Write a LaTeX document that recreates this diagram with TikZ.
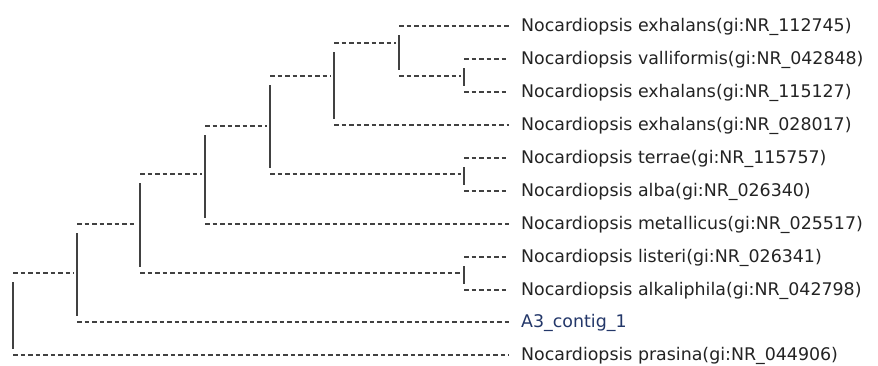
\documentclass[tikz,border=0pt]{standalone}
\usepackage{fontspec}
\setmainfont{DejaVu Sans}
\definecolor{linegray}{RGB}{65,65,65}
\definecolor{textgray}{RGB}{35,35,35}
\definecolor{contigblue}{RGB}{35,55,105}
\begin{document}
\begin{tikzpicture}[x=1pt,y=-1pt,
  br/.style={draw=linegray, line width=1.6pt, dash pattern=on 4.5pt off 3pt},
  vbar/.style={draw=linegray, line width=1.8pt},
  leaf/.style={anchor=west, inner xsep=12pt, inner ysep=0pt, text height=11pt, text depth=0pt,
    font=\fontsize{17.4}{20}\selectfont, text=textgray}]
\useasboundingbox (0,0) rectangle (878,365);
% leaves
\node[leaf] (l1)  at (509,26)  {Nocardiopsis exhalans(gi:NR\_112745)};
\node[leaf] (l2)  at (509,59)  {Nocardiopsis valliformis(gi:NR\_042848)};
\node[leaf] (l3)  at (509,92)  {Nocardiopsis exhalans(gi:NR\_115127)};
\node[leaf] (l4)  at (509,125) {Nocardiopsis exhalans(gi:NR\_028017)};
\node[leaf] (l5)  at (509,158) {Nocardiopsis terrae(gi:NR\_115757)};
\node[leaf] (l6)  at (509,191) {Nocardiopsis alba(gi:NR\_026340)};
\node[leaf] (l7)  at (509,224) {Nocardiopsis metallicus(gi:NR\_025517)};
\node[leaf] (l8)  at (509,257) {Nocardiopsis listeri(gi:NR\_026341)};
\node[leaf] (l9)  at (509,290) {Nocardiopsis alkaliphila(gi:NR\_042798)};
\node[leaf, text=contigblue] (l10) at (509,322) {A3\_contig\_1};
\node[leaf] (l11) at (509,355) {Nocardiopsis prasina(gi:NR\_044906)};
% internal nodes (x = vertical bar, y = incoming branch)
\coordinate (na)   at (464,76);
\coordinate (nc)   at (464,174);
\coordinate (nb)   at (464,273);
\coordinate (n399) at (399,43);
\coordinate (n334) at (334,76);
\coordinate (n270) at (270,126);
\coordinate (n205) at (205,174);
\coordinate (n140) at (140,224);
\coordinate (n77)  at (77,273);
\coordinate (root) at (13,314);
% leaf branches
\draw[br] (n399 |- l1.west) -- (l1.west);
\draw[br] (na |- l2.west) -- (l2.west);
\draw[br] (na |- l3.west) -- (l3.west);
\draw[br] (n334 |- l4.west) -- (l4.west);
\draw[br] (nc |- l5.west) -- (l5.west);
\draw[br] (nc |- l6.west) -- (l6.west);
\draw[br] (n205 |- l7.west) -- (l7.west);
\draw[br] (nb |- l8.west) -- (l8.west);
\draw[br] (nb |- l9.west) -- (l9.west);
\draw[br] (n77 |- l10.west) -- (l10.west);
\draw[br] (root |- l11.west) -- (l11.west);
% internal branches
\draw[br] (n399 |- na) -- ([xshift=-3pt]na);
\draw[br] (n334 |- n399) -- ([xshift=-3pt]n399);
\draw[br] (n270 |- n334) -- ([xshift=-3pt]n334);
\draw[br] (n270 |- nc) -- ([xshift=-3pt]nc);
\draw[br] (n205 |- n270) -- ([xshift=-3pt]n270);
\draw[br] (n140 |- n205) -- ([xshift=-3pt]n205);
\draw[br] (n140 |- nb) -- ([xshift=-3pt]nb);
\draw[br] (n77 |- n140) -- ([xshift=-3pt]n140);
\draw[br] (root |- n77) -- ([xshift=-3pt]n77);
% vertical bars
\draw[vbar] ([yshift=-9pt]na |- l2.west) -- ([yshift=6pt]na |- l3.west);
\draw[vbar] ([yshift=-9pt]nc |- l5.west) -- ([yshift=6pt]nc |- l6.west);
\draw[vbar] ([yshift=-9pt]nb |- l8.west) -- ([yshift=6pt]nb |- l9.west);
\draw[vbar] ([yshift=-9pt]n399 |- l1.west) -- ([yshift=6pt]n399 |- na);
\draw[vbar] ([yshift=-9pt]n334 |- n399) -- ([yshift=6pt]n334 |- l4.west);
\draw[vbar] ([yshift=-9pt]n270 |- n334) -- ([yshift=6pt]n270 |- nc);
\draw[vbar] ([yshift=-9pt]n205 |- n270) -- ([yshift=6pt]n205 |- l7.west);
\draw[vbar] ([yshift=-9pt]n140 |- n205) -- ([yshift=6pt]n140 |- nb);
\draw[vbar] ([yshift=-9pt]n77 |- n140) -- ([yshift=6pt]n77 |- l10.west);
\draw[vbar] ([yshift=-9pt]root |- n77) -- ([yshift=6pt]root |- l11.west);
\end{tikzpicture}
\end{document}
